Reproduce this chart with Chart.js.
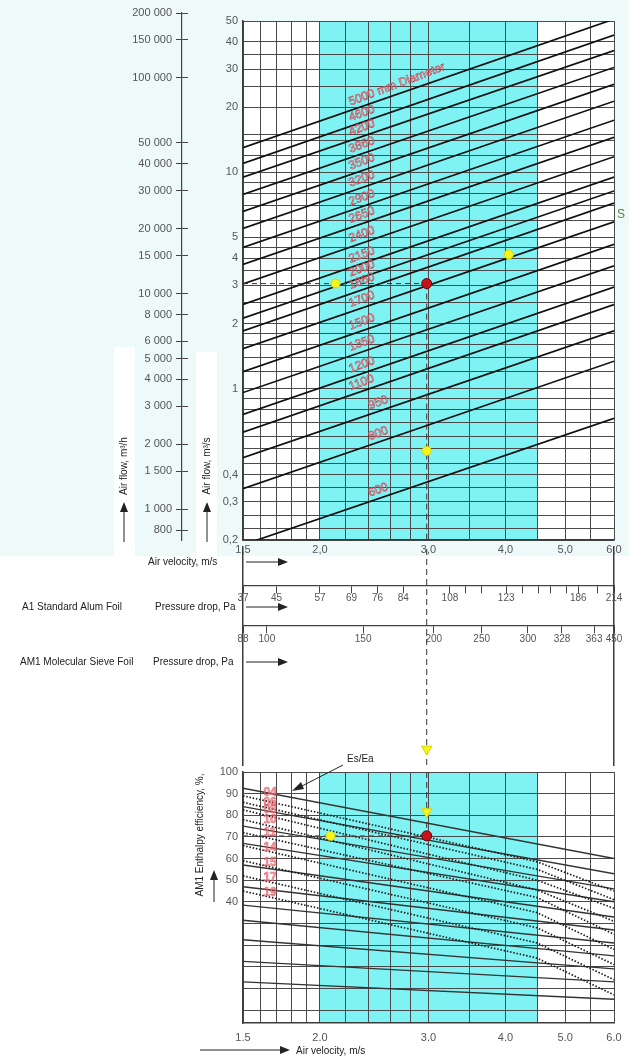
<!DOCTYPE html>
<html>
<head>
<meta charset="utf-8">
<script src="https://cdn.jsdelivr.net/npm/chart.js@4.4.0/dist/chart.umd.min.js"></script>
<style>
html, body { margin: 0; padding: 0; background: #fff; }
#wrap { position: relative; width: 629px; height: 1058px; overflow: hidden; }
#tint { position: absolute; left: 0; top: 0; width: 629px; height: 556px; background: #eefafa; }
canvas { position: absolute; left: 0; }
</style>
</head>
<body>
<div id="wrap">
  <div id="tint"></div>
  <canvas id="flowH" width="243" height="560" style="top:0"></canvas>
  <canvas id="top" width="629" height="560" style="top:0"></canvas>
  <canvas id="mid" width="629" height="232" style="top:540px"></canvas>
  <canvas id="bot" width="629" height="318" style="top:740px"></canvas>
</div>
<script>
// velocity axis, m/s
var velGrid = [1.5, 1.6, 1.7, 1.8, 1.9, 2.0, 2.2, 2.4, 2.6, 2.8, 3.0, 3.5, 4.0, 4.5, 5.0, 5.5, 6.0];
var velTicks = [1.5, 2, 3, 4, 5, 6];
var velTextTop = ['1,5', '2,0', '3,0', '4,0', '5,0', '6,0'];
var velTextBottom = ['1.5', '2.0', '3.0', '4.0', '5.0', '6.0'];
var bandFrom = 2.0, bandTo = 4.5;

// air flow, m3/s
var flowGrid = [50, 40, 35, 30, 25, 20, 15, 14, 12, 10, 9, 8, 7, 6, 5, 4.5, 4, 3.5, 3, 2.5, 2, 1.8, 1.6, 1.4, 1.2, 1,
                0.9, 0.8, 0.7, 0.6, 0.53, 0.45, 0.4, 0.35, 0.3, 0.26, 0.225, 0.2];
var flowTicks = [50, 40, 30, 20, 10, 5, 4, 3, 2, 1, 0.5, 0.4, 0.3, 0.2];
var flowText = ['50', '40', '30', '20', '10', '5', '4', '3', '2', '1', '0,5', '0,4', '0,3', '0,2'];

// air flow, m3/h
var flowHTicks = [200000, 150000, 100000, 50000, 40000, 30000, 20000, 15000, 10000, 8000, 6000, 5000, 4000, 3000, 2000, 1500, 1000, 800];
var flowHText = ['200 000', '150 000', '100 000', '50 000', '40 000', '30 000', '20 000', '15 000', '10 000',
                 '8 000', '6 000', '5 000', '4 000', '3 000', '2 000', '1 500', '1 000', '800'];

// rotor diameters, flow (m3/s) read at 1.5 and 6.0 m/s
var diameters = [5000, 4600, 4200, 3860, 3500, 3200, 2900, 2650, 2400, 2150, 2000, 1860, 1700, 1500, 1350, 1200, 1100, 950, 800, 600];
var flowAt15 = [13.0, 11.0, 9.5, 7.9, 6.6, 5.5, 4.5, 3.75, 3.05, 2.45, 2.12, 1.85, 1.53, 1.2, 0.96, 0.76, 0.63, 0.48, 0.345, 0.19];
var flowAt60 = [51, 43, 36.5, 30.5, 25.5, 21.3, 17.4, 14.5, 11.8, 9.5, 8.2, 7.2, 5.9, 4.65, 3.7, 2.95, 2.45, 1.85, 1.34, 0.73];

// pressure drop scales (label, and velocity it sits at)
var a1Vel = [1.5, 1.7, 2.0, 2.25, 2.48, 2.73, 3.25, 3.45, 3.66, 4.01, 4.26, 4.52, 4.73, 5.02, 5.25, 5.65, 6.0];
var a1Text = ['37', '45', '57', '69', '76', '84', '108', '', '', '123', '', '', '', '', '186', '', '214'];
var am1Vel = [1.5, 1.64, 2.35, 3.06, 3.66, 4.35, 4.94, 5.57, 6.0];
var am1Text = ['88', '100', '150', '200', '250', '300', '328', '363', '450'];

// enthalpy efficiency, %
var effTicks = [100, 90, 80, 70, 60, 50, 40];
var effGrid = [100, 90, 80, 70, 60, 50, 40, 30, 20, 10, 0, -10];
var effSolidAt15 = [92.5, 84, 75, 67, 57, 47, 38.5, 31.5, 22.5, 12.5, 3];
var effSolidAt60 = [60, 53, 46, 40, 33, 27, 21, 15, 9, 3, -5];
var effDotAt15 = [89, 86, 82.5, 78, 72, 66, 59, 52, 45];
var effDotAt45 = [58.5, 55, 50, 45.5, 42, 35, 28, 21, 14];
var effDotAt60 = [45, 41, 37, 31, 25, 18, 11, 4, -3];
var effDotLabels = ['04', '06', '08', '10', '11', '14', '15', '17', '19'];
var effDotLabelAt = [90.3, 85.7, 82.5, 77.9, 71.9, 65, 58.1, 51.2, 44.2];

// worked example
var opVel = 2.98, opFlow = 3.06, opEff = 70.5;
var yellowTopVel = [2.12, 4.05, 2.98];
var yellowTopFlow = [3.06, 4.17, 0.516];
var midTriangle = 0.073;
var yellowBotVel = [2.08];
var yellowBotEff = [70.5];
var triBotEff = [81.6];

Chart.defaults.font.family = '"Liberation Sans", Arial, sans-serif';
Chart.defaults.font.size = 11;
Chart.defaults.color = '#555';
Chart.defaults.animation = false;
Chart.defaults.events = [];
Chart.defaults.responsive = false;
Chart.defaults.plugins.legend.display = false;
Chart.defaults.plugins.tooltip.enabled = false;

var GRID = '#4a4a4a', FRAME = '#3c3c3c', INK = '#222';

function fixWidth(w) {
    return function (s) { s.width = w; s.paddingTop = 0; s.paddingBottom = 0; };
}
function fixHeight(h) {
    return function (s) { s.height = h; s.paddingLeft = 0; s.paddingRight = 0; s.paddingTop = 0; s.paddingBottom = 0; };
}

function velScale(texts, pad, h) {
    return {
        type: 'logarithmic', min: 1.5, max: 6,
        afterBuildTicks: function (s) { s.ticks = velGrid.map(function (v) { return {value: v}; }); },
        afterFit: fixHeight(h),
        ticks: {
            autoSkip: false, maxRotation: 0, minRotation: 0, padding: pad,
            callback: function (v) { var i = velTicks.indexOf(v); return i < 0 ? '' : texts[i]; }
        },
        grid: {color: GRID, lineWidth: 1, drawTicks: false},
        border: {color: FRAME, width: 1.5}
    };
}

function pressureScale(vels, texts, at) {
    return {
        type: 'logarithmic', axis: 'x', min: 1.5, max: 6, position: {y: at},
        afterBuildTicks: function (s) { s.ticks = vels.map(function (v) { return {value: v}; }); },
        afterFit: function (s) { s.paddingLeft = 0; s.paddingRight = 0; s.paddingTop = 0; s.paddingBottom = 0; },
        ticks: {
            autoSkip: false, maxRotation: 0, minRotation: 0, padding: 0, font: {size: 10}, color: '#555',
            callback: function (v, i) { return texts[i]; }
        },
        grid: {drawOnChartArea: false, tickLength: 7, color: '#444', lineWidth: 1},
        border: {display: true, color: '#444', width: 1.3}
    };
}

function arrowRight(ctx, x0, x1, y) {
    ctx.beginPath(); ctx.moveTo(x0, y); ctx.lineTo(x1 - 8, y); ctx.stroke();
    ctx.beginPath(); ctx.moveTo(x1, y); ctx.lineTo(x1 - 10, y - 4); ctx.lineTo(x1 - 10, y + 4); ctx.closePath(); ctx.fill();
}
function arrowUp(ctx, x, y0, y1) {
    ctx.beginPath(); ctx.moveTo(x, y0); ctx.lineTo(x, y1 + 8); ctx.stroke();
    ctx.beginPath(); ctx.moveTo(x, y1); ctx.lineTo(x - 4, y1 + 10); ctx.lineTo(x + 4, y1 + 10); ctx.closePath(); ctx.fill();
}
function vText(ctx, t, x, y) {
    ctx.save(); ctx.translate(x, y); ctx.rotate(-Math.PI / 2);
    ctx.textAlign = 'center'; ctx.textBaseline = 'middle'; ctx.fillText(t, 0, 0); ctx.restore();
}
function inkStyle(ctx) {
    ctx.fillStyle = INK; ctx.strokeStyle = INK; ctx.lineWidth = 1;
    ctx.font = '10px "Liberation Sans", Arial, sans-serif';
}

var bandPlugin = {
    id: 'band',
    beforeDraw: function (c) {
        var ctx = c.ctx, a = c.chartArea, x = c.scales.x;
        ctx.save();
        ctx.fillStyle = '#fff';
        ctx.fillRect(a.left, a.top, a.width, a.height);
        var x0 = x.getPixelForValue(bandFrom), x1 = x.getPixelForValue(bandTo);
        ctx.fillStyle = '#7ff3f3';
        ctx.fillRect(x0, a.top, x1 - x0, a.height);
        ctx.restore();
    }
};

// ---- m3/h axis
var flowHTitles = {
    id: 'flowHTitles',
    beforeDraw: function (c) {
        var ctx = c.ctx;
        ctx.save();
        ctx.fillStyle = '#fff';
        ctx.fillRect(114, 347, 21, 210);
        ctx.fillRect(196, 352, 21, 205);
        ctx.restore();
    },
    afterDraw: function (c) {
        var ctx = c.ctx;
        ctx.save();
        inkStyle(ctx);
        vText(ctx, 'Air flow, m\u00b3/h', 124, 466);
        vText(ctx, 'Air flow, m\u00b3/s', 207, 466);
        arrowUp(ctx, 124, 542, 502);
        arrowUp(ctx, 207, 542, 502);
        ctx.restore();
    }
};

new Chart(document.getElementById('flowH'), {
    type: 'line',
    data: {datasets: []},
    options: {
        layout: {padding: {top: 13, right: 55, bottom: 20, left: 0}},
        scales: {
            x: {display: false},
            y: {
                type: 'logarithmic', min: 720, max: 200000,
                afterBuildTicks: function (s) { s.ticks = flowHTicks.map(function (v) { return {value: v}; }); },
                afterFit: fixWidth(182),
                ticks: {
                    autoSkip: false, padding: 4,
                    callback: function (v) { var i = flowHTicks.indexOf(v); return i < 0 ? '' : flowHText[i]; }
                },
                grid: {color: '#444', lineWidth: 1, tickLength: 6},
                border: {color: '#444', width: 1.2}
            }
        }
    },
    plugins: [flowHTitles]
});

// ---- top: air flow vs velocity with diameters
var diamLabels = {
    id: 'diamLabels',
    afterDatasetsDraw: function (c) {
        var ctx = c.ctx, x = c.scales.x, y = c.scales.y;
        ctx.save();
        ctx.font = '12px "Liberation Sans", Arial, sans-serif';
        ctx.textBaseline = 'bottom';
        ctx.strokeStyle = '#d42c3c';
        ctx.fillStyle = 'rgba(255,235,238,0.5)';
        ctx.lineWidth = 0.55;
        diameters.forEach(function (d, i) {
            var v = d < 1000 ? 2.42 : 2.25;
            var f = Math.log(v / 1.5) / Math.log(6 / 1.5);
            var q = Math.exp(Math.log(flowAt15[i]) + f * (Math.log(flowAt60[i]) - Math.log(flowAt15[i])));
            var px = x.getPixelForValue(v), py = y.getPixelForValue(q);
            var t = i === 0 ? d + ' mm Diameter' : String(d);
            ctx.save();
            ctx.translate(px, py - 2);
            ctx.rotate(-0.36);
            ctx.fillText(t, 0, 0);
            ctx.strokeText(t, 0, 0);
            ctx.restore();
        });
        ctx.fillStyle = '#5f7f35';
        ctx.textBaseline = 'middle';
        ctx.fillText('S', 617, 215);
        ctx.restore();
    }
};

var topSets = diameters.map(function (d, i) {
    return {
        label: d + ' mm',
        data: [{x: 1.5, y: flowAt15[i]}, {x: 6, y: flowAt60[i]}],
        borderColor: '#111', borderWidth: 1.7, pointRadius: 0, order: 2
    };
});
topSets.push({
    data: [{x: 1.5, y: opFlow}, {x: opVel, y: opFlow}],
    borderColor: '#333', borderWidth: 1, borderDash: [5, 4], pointRadius: 0, order: 1
});
topSets.push({
    data: [{x: opVel, y: opFlow}, {x: opVel, y: 0.2}],
    borderColor: '#333', borderWidth: 1, borderDash: [6, 4], pointRadius: 0, order: 1
});
topSets.push({
    type: 'scatter',
    data: yellowTopVel.map(function (v, i) { return {x: v, y: yellowTopFlow[i]}; }),
    pointRadius: 4.5, pointBackgroundColor: '#f4f41e', pointBorderColor: '#dcd400', pointBorderWidth: 1, order: 0
});
topSets.push({
    type: 'scatter',
    data: [{x: opVel, y: opFlow}],
    pointRadius: 5, pointBackgroundColor: '#c8121c', pointBorderColor: '#6a0008', pointBorderWidth: 1, order: 0
});

new Chart(document.getElementById('top'), {
    type: 'line',
    data: {datasets: topSets},
    options: {
        layout: {padding: {top: 21, right: 15, bottom: 0, left: 0}},
        scales: {
            x: velScale(velTextTop, 3, 20),
            y: {
                type: 'logarithmic', min: 0.2, max: 50,
                afterBuildTicks: function (s) { s.ticks = flowGrid.map(function (v) { return {value: v}; }); },
                afterFit: fixWidth(243),
                ticks: {
                    autoSkip: false, padding: 5,
                    callback: function (v) { var i = flowTicks.indexOf(v); return i < 0 ? '' : flowText[i]; }
                },
                grid: {color: GRID, lineWidth: 1, drawTicks: false},
                border: {color: FRAME, width: 1.5}
            }
        }
    },
    plugins: [bandPlugin, diamLabels]
});

// ---- middle: pressure drop scales
var midTexts = {
    id: 'midTexts',
    afterDraw: function (c) {
        var ctx = c.ctx;
        ctx.save();
        inkStyle(ctx);
        ctx.textBaseline = 'middle';
        ctx.fillText('Air velocity, m/s', 148, 22);
        arrowRight(ctx, 246, 288, 22);
        ctx.fillText('A1 Standard Alum Foil', 22, 67);
        ctx.fillText('Pressure drop, Pa', 155, 67);
        arrowRight(ctx, 246, 288, 67);
        ctx.fillText('AM1 Molecular Sieve Foil', 20, 122);
        ctx.fillText('Pressure drop, Pa', 153, 122);
        arrowRight(ctx, 246, 288, 122);
        ctx.restore();
    }
};

new Chart(document.getElementById('mid'), {
    type: 'line',
    data: {
        datasets: [
            {
                data: [{x: opVel, y: 0}, {x: opVel, y: 1}], xAxisID: 'x', yAxisID: 'y',
                borderColor: '#333', borderWidth: 1, borderDash: [6, 4], pointRadius: 0, order: 1
            },
            {
                type: 'scatter', data: [{x: opVel, y: midTriangle}], xAxisID: 'x', yAxisID: 'y',
                pointStyle: 'triangle', pointRotation: 180, pointRadius: 6,
                pointBackgroundColor: '#f4f41e', pointBorderColor: '#dcd400', order: 0
            }
        ]
    },
    options: {
        layout: {padding: 0},
        scales: {
            x: {type: 'logarithmic', min: 1.5, max: 6, display: false},
            y: {
                type: 'linear', min: 0, max: 1, position: 'left', afterFit: fixWidth(243),
                ticks: {display: false}, grid: {display: false}, border: {display: true, color: FRAME, width: 1.5}
            },
            yr: {
                type: 'linear', axis: 'y', min: 0, max: 1, position: 'right', afterFit: fixWidth(15),
                ticks: {display: false}, grid: {display: false}, border: {display: true, color: FRAME, width: 1.5}
            },
            pa1: pressureScale(a1Vel, a1Text, 0.823),
            pa2: pressureScale(am1Vel, am1Text, 0.638)
        }
    },
    plugins: [midTexts]
});

// ---- bottom: enthalpy efficiency
var botTexts = {
    id: 'botTexts',
    afterDatasetsDraw: function (c) {
        var ctx = c.ctx, x = c.scales.x, y = c.scales.y;
        ctx.save();
        ctx.font = 'bold 12px "Liberation Sans", Arial, sans-serif';
        ctx.textAlign = 'center';
        ctx.textBaseline = 'middle';
        ctx.fillStyle = 'rgba(240,125,132,0.7)';
        ctx.strokeStyle = 'rgba(215,50,62,0.7)';
        ctx.lineWidth = 0.5;
        effDotLabels.forEach(function (t, i) {
            var px = x.getPixelForValue(1.66), py = y.getPixelForValue(effDotLabelAt[i]);
            ctx.fillText(t, px, py);
            ctx.strokeText(t, px, py);
        });
        ctx.restore();
    },
    afterDraw: function (c) {
        var ctx = c.ctx;
        ctx.save();
        inkStyle(ctx);
        ctx.textBaseline = 'middle';
        ctx.fillText('Es/Ea', 347, 19);
        ctx.beginPath(); ctx.moveTo(343, 25); ctx.lineTo(300, 47); ctx.stroke();
        ctx.beginPath(); ctx.moveTo(292, 51); ctx.lineTo(301, 42); ctx.lineTo(304, 49); ctx.closePath(); ctx.fill();
        vText(ctx, 'AM1 Enthalpy efficiency, %,', 200, 95);
        arrowUp(ctx, 214, 162, 130);
        ctx.fillText('Air velocity, m/s', 296, 311);
        arrowRight(ctx, 200, 290, 310);
        ctx.restore();
    }
};

var botSets = [];
effSolidAt15.forEach(function (v, i) {
    botSets.push({
        data: [{x: 1.5, y: v}, {x: 6, y: effSolidAt60[i]}],
        borderColor: '#333', borderWidth: 1.4, pointRadius: 0, order: 3
    });
});
effDotAt15.forEach(function (v, i) {
    botSets.push({
        data: [{x: 1.5, y: v}, {x: 4.5, y: effDotAt45[i]}, {x: 6, y: effDotAt60[i]}],
        borderColor: '#1a1a1a', borderWidth: 1.7, borderDash: [1.5, 1.8], pointRadius: 0, order: 2
    });
});
botSets.push({
    data: [{x: 1.5, y: opEff}, {x: opVel, y: opEff}],
    borderColor: '#555', borderWidth: 1, borderDash: [5, 4], pointRadius: 0, order: 1
});
botSets.push({
    data: [{x: opVel, y: 100}, {x: opVel, y: opEff}],
    borderColor: '#333', borderWidth: 1, borderDash: [6, 4], pointRadius: 0, order: 1
});
botSets.push({
    type: 'scatter',
    data: yellowBotVel.map(function (v, i) { return {x: v, y: yellowBotEff[i]}; }),
    pointRadius: 4.5, pointBackgroundColor: '#f4f41e', pointBorderColor: '#dcd400', order: 0
});
botSets.push({
    type: 'scatter', data: [{x: opVel, y: triBotEff[0]}],
    pointStyle: 'triangle', pointRotation: 180, pointRadius: 6,
    pointBackgroundColor: '#f4f41e', pointBorderColor: '#dcd400', order: 0
});
botSets.push({
    type: 'scatter', data: [{x: opVel, y: opEff}],
    pointRadius: 5, pointBackgroundColor: '#c8121c', pointBorderColor: '#6a0008', pointBorderWidth: 1, order: 0
});

new Chart(document.getElementById('bot'), {
    type: 'line',
    data: {datasets: botSets},
    options: {
        layout: {padding: {top: 32, right: 15, bottom: 0, left: 0}},
        scales: {
            x: velScale(velTextBottom, 8, 35),
            y: {
                type: 'linear', min: -16, max: 100,
                afterBuildTicks: function (s) { s.ticks = effGrid.map(function (v) { return {value: v}; }); },
                afterFit: fixWidth(243),
                ticks: {
                    autoSkip: false, padding: 5,
                    callback: function (v) { return effTicks.indexOf(v) < 0 ? '' : String(v); }
                },
                grid: {color: GRID, lineWidth: 1, drawTicks: false},
                border: {color: FRAME, width: 1.5}
            }
        }
    },
    plugins: [bandPlugin, botTexts]
});
</script>
</body>
</html>
